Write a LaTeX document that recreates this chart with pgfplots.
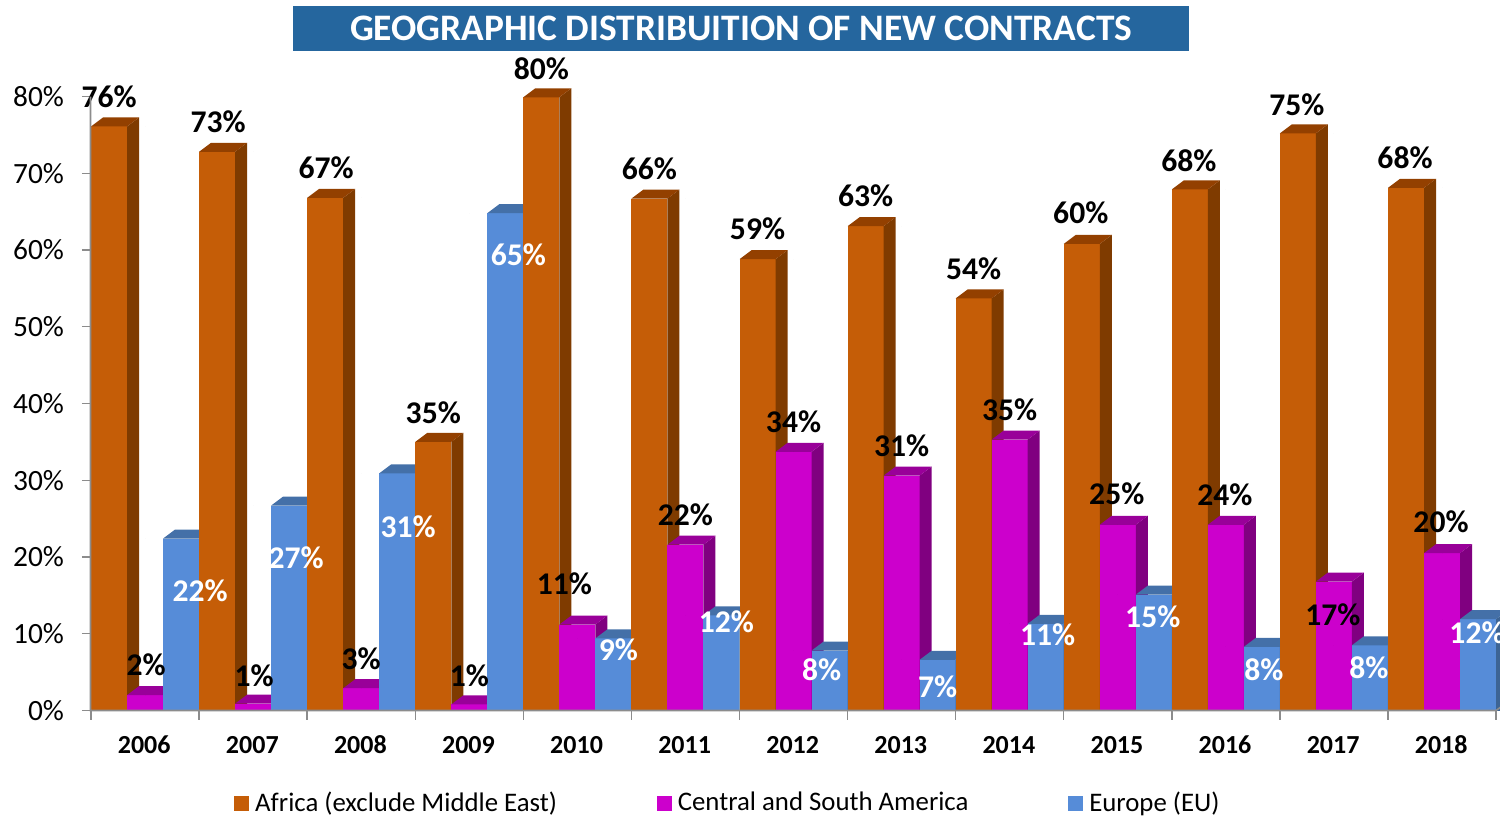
\documentclass[border=0pt]{standalone}
\usepackage{fontspec}
\setmainfont{Carlito}
\usepackage{pgfplots}
\usepackage{pgfplotstable}
\pgfplotsset{compat=1.18}

\definecolor{africa}{HTML}{C55D07}
\definecolor{africaSide}{HTML}{7F3B00}
\definecolor{africaTop}{HTML}{934000}
\definecolor{america}{HTML}{CC00CC}
\definecolor{americaSide}{HTML}{800080}
\definecolor{americaTop}{HTML}{990099}
\definecolor{europe}{HTML}{568CD8}
\definecolor{europeSide}{HTML}{3D6494}
\definecolor{europeTop}{HTML}{4470A8}
\definecolor{titleblue}{HTML}{25669E}
\definecolor{axisgray}{HTML}{8C8C8C}

% side and top face of a bar, placed at the top of the front face (1 px = 0.5 pt)
\newcommand\declarefaces[4]{%
  \pgfdeclareplotmark{#1}{%
    \pgfsetfillcolor{#3}%
    \pgfpathmoveto{\pgfpoint{#2+9pt}{0pt}}%
    \pgfpathlineto{\pgfpoint{#2+15pt}{4.5pt}}%
    \pgfpathlineto{\pgfpoint{#2+15pt}{-400pt}}%
    \pgfpathlineto{\pgfpoint{#2+9pt}{-400pt}}%
    \pgfpathclose\pgfusepathqfill
    \pgfsetfillcolor{#4}%
    \pgfpathmoveto{\pgfpoint{#2-9pt}{0pt}}%
    \pgfpathlineto{\pgfpoint{#2+9pt}{0pt}}%
    \pgfpathlineto{\pgfpoint{#2+15pt}{4.5pt}}%
    \pgfpathlineto{\pgfpoint{#2-3pt}{4.5pt}}%
    \pgfpathclose\pgfusepathqfill
  }}
\declarefaces{facesA}{-18pt}{africaSide}{africaTop}
\declarefaces{facesM}{0pt}{americaSide}{americaTop}
\declarefaces{facesE}{18pt}{europeSide}{europeTop}

% x value label dx dy: dx, dy move the label from the bar top, in px
\pgfplotstableread{
x val lab dx dy
0 76.1 76 0 30
1 72.8 73 1 30
2 66.8 67 1 30
3 35.0 35 0 29
4 79.9 80 0 29
5 66.7 66 0 30
6 58.8 59 0 30
7 63.1 63 0 30
8 53.7 54 0 30
9 60.8 60 -1 31
10 67.9 68 -1 29
11 75.2 75 -1 29
12 68.1 68 -1 30
}\africatab
\pgfplotstableread{
x val lab dx dy
0 2.0 2 1 30
1 0.9 1 1 28
2 2.9 3 0 30
3 0.8 1 0 29
4 11.2 11 -13 41
5 21.6 22 0 30
6 33.7 34 0 30
7 30.6 31 0 30
8 35.3 35 0 30
9 24.2 25 -1 31
10 24.2 24 -1 30
11 16.8 17 -1 -33
12 20.5 20 -1 31
}\americatab
\pgfplotstableread{
x val lab dx dy
0 22.4 22 19 -52
1 26.7 27 7 -52
2 30.9 31 11 -53
3 64.8 65 13 -42
4 9.4 9 5 -11
5 12.4 12 5 -6
6 7.8 8 -8 -19
7 6.6 7 0 -27
8 11.3 11 2 -11
9 15.1 15 -1 -22
10 8.3 8 2 -23
11 8.5 8 -1 -22
12 11.9 12 -1 -14
}\europetab

% one bar of a series: table, category, shift, colour, mark
\newcommand\onebar[5]{%
  \addplot[ybar, bar width=18pt, bar shift=#3, fill=#4, draw=none, forget plot,
    clip marker paths=true, restrict x to domain=#2:#2] table[x=x, y=val] {#1};
  \addplot[only marks, mark=#5, forget plot,
    clip marker paths=true, restrict x to domain=#2:#2] table[x=x, y=val] {#1};
}
% labels of a series: table, centre offset in px, colour
\newcommand\labels[3]{%
  \addplot[only marks, mark=*, mark size=0pt, mark options={draw=none, fill=none}, forget plot,
    clip marker paths=false,
    point meta=explicit symbolic,
    visualization depends on={\thisrow{dx} \as \dx},
    visualization depends on={\thisrow{dy} \as \dy},
    nodes near coords={\pgfplotspointmeta\%},
    every node near coord/.append style={anchor=center, inner sep=0pt,
      xshift=(\dx+#2)*0.5pt, yshift=\dy*0.5pt, text=#3,
      font=\bfseries\fontsize{15.8}{18}\selectfont}]
    table[x=x, y=val, meta=lab] {#1};
}

\begin{document}
\begin{tikzpicture}
\path[use as bounding box] (0,0) rectangle (750pt,408pt);
\node[fill=titleblue, text=white, minimum width=448pt, minimum height=22.5pt, inner sep=0pt,
  font=\bfseries\fontsize{18.7}{20}\selectfont] at (370.5pt,393.75pt)
  {\raisebox{-1pt}{GEOGRAPHIC DISTRIBUITION OF NEW CONTRACTS}};
\begin{axis}[
  at={(45.5pt,52.75pt)}, anchor=south west,
  x=54.04pt, y=3.8375pt,
  xmin=-0.5, xmax=12.537, ymin=0, ymax=88,
  axis line style={draw=none},
  tick pos=left,
  tick align=outside,
  major tick length=4.5pt,
  tick style={axisgray, line width=0.7pt},
  xtick={-0.5,0.5,...,12.5},
  x tick label as interval,
  xticklabels={2006,2007,2008,2009,2010,2011,2012,2013,2014,2015,2016,2017,2018},
  xticklabel style={font=\bfseries\fontsize{13}{15}\selectfont, yshift=-4.7pt, xshift=-0.4pt},
  ytick={0,10,...,80},
  yticklabels={0\%,10\%,20\%,30\%,40\%,50\%,60\%,70\%,80\%},
  yticklabel style={font=\fontsize{14.7}{16}\selectfont, xshift=-5.5pt},
  legend columns=3,
  legend cell align=left,
  legend style={at={(0.1015,-0.137)}, anchor=west, draw=none, fill=none, inner sep=0pt,
    font=\fontsize{13.4}{16}\selectfont,
    /tikz/every even column/.append style={column sep=48pt}},
  legend image code/.code={\fill[#1] (0pt,-3.5pt) rectangle (7pt,3.5pt); \path (8pt,0pt);},
  after end axis/.code={
    \draw[axisgray, line width=0.8pt] (axis cs:-0.505,80) -- (axis cs:-0.505,0)
      -- (axis cs:12.5,0) -- ++(3pt,2.2pt);
  },
]
\addlegendimage{africa}\addlegendentry{Africa (exclude Middle East)}
\addlegendimage{america}\addlegendentry{Central and South America}
\addlegendimage{europe}\addlegendentry{Europe (EU)}

\pgfplotsinvokeforeach{0,...,12}{
  \onebar{\africatab}{#1}{-18pt}{africa}{facesA}
  \onebar{\americatab}{#1}{0pt}{america}{facesM}
  \onebar{\europetab}{#1}{18pt}{europe}{facesE}
}
\labels{\africatab}{-36}{black}
\labels{\americatab}{0}{black}
\labels{\europetab}{36}{white}
\end{axis}
\end{tikzpicture}
\end{document}
